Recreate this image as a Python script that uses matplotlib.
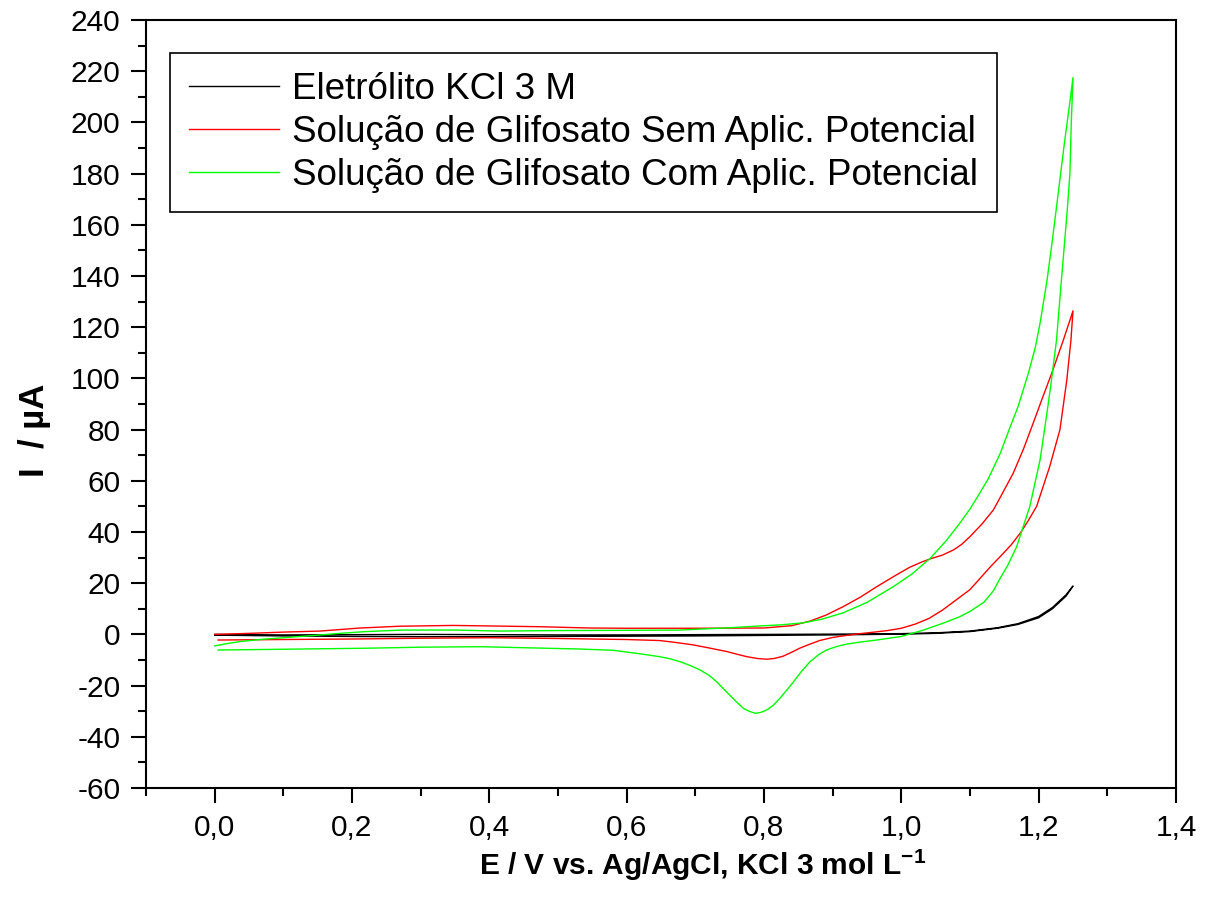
import numpy as np
import matplotlib
matplotlib.use("Agg")
import matplotlib.pyplot as plt
from matplotlib.ticker import MultipleLocator, FuncFormatter

plt.rcParams['font.family'] = ['Liberation Sans', 'DejaVu Sans']
plt.rcParams['axes.unicode_minus'] = False
plt.rcParams['mathtext.fontset'] = 'custom'
plt.rcParams['mathtext.rm'] = 'Liberation Sans'
plt.rcParams['mathtext.bf'] = 'Liberation Sans:bold'

# --- Voltammograms (E in V, I in uA), forward scan then reverse scan ---
# KCl 3 M supporting electrolyte
E_kcl = [0.00, 0.10, 0.20, 0.30, 0.40, 0.50, 0.60, 0.70, 0.80, 0.90, 1.00, 1.05,
         1.10, 1.14, 1.17, 1.20, 1.22, 1.24, 1.25,
         1.24, 1.22, 1.20, 1.17, 1.14, 1.10, 1.05, 1.00, 0.90, 0.80, 0.70, 0.60,
         0.50, 0.40, 0.30, 0.20, 0.10, 0.00]
I_kcl = [0.0, -0.2, -0.1, 0.0, -0.1, -0.2, -0.2, -0.1, 0.0, 0.1, 0.3, 0.6,
         1.3, 2.6, 4.2, 7.0, 10.5, 15.5, 18.9,
         15.0, 10.0, 6.5, 3.9, 2.4, 1.1, 0.4, 0.1, -0.2, -0.4, -0.6, -0.7,
         -0.8, -0.9, -0.9, -0.8, -0.6, -0.3]

# glyphosate solution, no applied potential
E_sem = [0.00, 0.05, 0.10, 0.153, 0.212, 0.27, 0.347, 0.40, 0.474, 0.546, 0.60,
         0.70, 0.80, 0.84, 0.867, 0.89, 0.915, 0.94, 0.964, 0.99, 1.012, 1.03,
         1.042, 1.06, 1.076, 1.088, 1.10, 1.117, 1.134, 1.144, 1.156, 1.163,
         1.178, 1.192, 1.205, 1.219, 1.236, 1.25,
         1.247, 1.241, 1.231, 1.216, 1.197, 1.185, 1.173, 1.16, 1.144, 1.13,
         1.115, 1.10, 1.08, 1.06, 1.04, 1.02, 1.00, 0.98, 0.964, 0.94, 0.92,
         0.90, 0.881, 0.865, 0.852, 0.84, 0.828, 0.815, 0.804, 0.79, 0.775,
         0.76, 0.746, 0.72, 0.697, 0.67, 0.648, 0.60, 0.55, 0.50, 0.40, 0.30,
         0.20, 0.10, 0.005]
I_sem = [0.0, 0.4, 0.9, 1.3, 2.5, 3.2, 3.5, 3.3, 3.0, 2.5, 2.4,
         2.4, 2.5, 3.4, 5.2, 7.5, 10.8, 14.5, 18.6, 22.8, 26.2, 28.3,
         29.5, 31.0, 33.0, 35.2, 38.2, 43.0, 48.6, 53.5, 59.5, 63.0,
         72.5, 82.5, 92.0, 102.0, 115.0, 126.4,
         115.0, 99.4, 80.0, 65.5, 50.0, 44.5, 39.5, 35.0, 30.4, 26.5,
         22.0, 17.5, 13.5, 9.5, 6.2, 4.0, 2.4, 1.5, 1.0, 0.3, -0.4,
         -1.2, -2.4, -4.0, -5.4, -7.0, -8.5, -9.4, -9.7, -9.4, -8.7,
         -7.7, -6.7, -5.3, -4.1, -3.1, -2.4, -2.0, -1.8, -1.6, -1.3, -1.5,
         -1.8, -2.0, -2.2]

# glyphosate solution, with applied potential
E_com = [0.00, 0.02, 0.037, 0.07, 0.11, 0.15, 0.182, 0.22, 0.274, 0.35, 0.416,
         0.50, 0.60, 0.677, 0.75, 0.794, 0.823, 0.857, 0.885, 0.915, 0.95, 0.988,
         1.015, 1.042, 1.065, 1.085, 1.10, 1.114, 1.127, 1.144, 1.157, 1.17,
         1.185, 1.195, 1.202, 1.212, 1.219, 1.226, 1.232, 1.238, 1.244, 1.25,
         1.2475, 1.2455, 1.242, 1.238, 1.233, 1.226, 1.218, 1.212, 1.202, 1.187,
         1.168, 1.155, 1.144, 1.134, 1.12, 1.10, 1.085, 1.06, 1.03, 1.00, 0.964,
         0.94, 0.92, 0.905, 0.891, 0.88, 0.867, 0.855, 0.843, 0.833, 0.823,
         0.813, 0.804, 0.795, 0.787, 0.778, 0.77, 0.76, 0.75, 0.74, 0.731,
         0.72, 0.707, 0.693, 0.678, 0.663, 0.648, 0.62, 0.58, 0.53, 0.45,
         0.387, 0.30, 0.22, 0.10, 0.005]
I_com = [-4.5, -3.5, -2.8, -1.9, -1.1, -0.3, 0.4, 1.1, 1.7, 1.7, 1.3,
         1.5, 1.6, 1.7, 2.6, 3.3, 3.7, 4.5, 6.0, 8.4, 12.5, 18.6,
         23.5, 29.7, 36.5, 43.4, 49.0, 55.1, 61.0, 70.7, 80.0, 89.0,
         102.0, 112.0, 121.5, 138.0, 152.0, 167.0, 180.0, 193.0, 205.0, 217.5,
         200.0, 180.0, 167.0, 154.0, 138.0, 115.0, 98.0, 86.4, 68.1, 49.9,
         34.3, 27.0, 22.0, 17.0, 12.5, 9.0, 6.9, 4.3, 1.5, -0.8, -2.2,
         -3.0, -3.8, -4.8, -6.1, -7.8, -10.7, -14.3, -18.5, -21.8, -25.0,
         -27.8, -29.5, -30.5, -30.8, -30.0, -28.9, -26.4, -23.7, -21.0, -18.5,
         -16.0, -13.9, -12.2, -10.7, -9.5, -8.7, -7.6, -6.2, -5.7, -5.2,
         -4.8, -5.0, -5.4, -5.8, -6.1]

labels = ["Eletrólito KCl 3 M",
          "Solução de Glifosato Sem Aplic. Potencial",
          "Solução de Glifosato Com Aplic. Potencial"]
colors = ["#000000", "#ff0000", "#00ff00"]

fig = plt.figure(figsize=(12.13, 9.13), dpi=100)
ax = fig.add_axes([146 / 1213, 1 - 788 / 913, 1030 / 1213, 768 / 913])

for E, I, lab, c in zip([E_kcl, E_sem, E_com], [I_kcl, I_sem, I_com], labels, colors):
    ax.plot(E, I, color=c, lw=1.0, label=lab)

ax.set_xlim(-0.1, 1.4)
ax.set_ylim(-60, 240)
ax.xaxis.set_major_locator(MultipleLocator(0.2))
ax.xaxis.set_minor_locator(MultipleLocator(0.1))
ax.yaxis.set_major_locator(MultipleLocator(20))
ax.yaxis.set_minor_locator(MultipleLocator(10))
ax.xaxis.set_major_formatter(FuncFormatter(lambda v, _: f"{v:.1f}".replace('.', ',')))
ax.yaxis.set_major_formatter(FuncFormatter(lambda v, _: f"{v:.0f}"))

ax.tick_params(which='both', direction='out', width=1.5, labelsize=21.5, top=False, right=False)
ax.tick_params(which='major', length=10.5)
ax.tick_params(which='minor', length=5.5)
ax.tick_params(axis='y', pad=8)
ax.tick_params(axis='x', pad=8)
for sp in ax.spines.values():
    sp.set_linewidth(1.5)

ax.set_xlabel(r"E / V vs. Ag/AgCl, KCl 3 mol L$^{\mathbf{-1}}$", fontsize=21.5, fontweight='bold')
ax.set_ylabel("I  / µA", fontsize=25, fontweight='bold')
ax.xaxis.set_label_coords(0.54, -0.1, transform=ax.transAxes)
ax.yaxis.set_label_coords(-0.108, 0.466, transform=ax.transAxes)
ax.xaxis.label.set_va('center')
ax.yaxis.label.set_va('center')

leg = ax.legend(loc='upper left', bbox_to_anchor=(24 / 1030, 1 - 33 / 768), borderaxespad=0,
                fontsize=26.5, frameon=True, fancybox=False, framealpha=1, edgecolor='black',
                handlelength=2.45, handletextpad=0.35, labelspacing=0.22, borderpad=0.52)
leg.get_frame().set_linewidth(1.2)

fig.savefig("out.png", dpi=100)
